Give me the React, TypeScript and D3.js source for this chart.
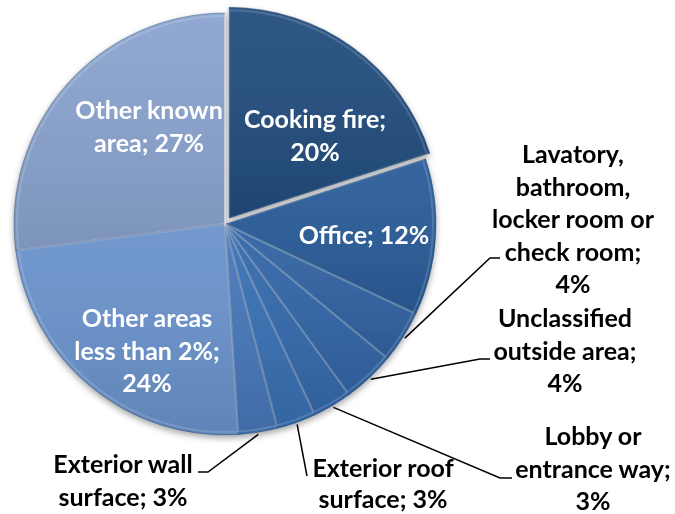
import React from "react";
import * as d3 from "d3";

const categories = [
  "Cooking fire",
  "Office",
  "Lavatory, bathroom, locker room or check room",
  "Unclassified outside area",
  "Lobby or entrance way",
  "Exterior roof surface",
  "Exterior wall surface",
  "Other areas less than 2%",
  "Other known area",
];
const values = [20, 12, 4, 4, 3, 3, 3, 24, 27];
const labelLines = [
  ["Cooking fire;", "20%"],
  ["Office; 12%"],
  ["Lavatory,", "bathroom,", "locker room or", "check room;", "4%"],
  ["Unclassified", "outside area;", "4%"],
  ["Lobby or", "entrance way;", "3%"],
  ["Exterior roof", "surface; 3%"],
  ["Exterior wall", "surface; 3%"],
  ["Other areas", "less than 2%;", "24%"],
  ["Other known", "area; 27%"],
];

// layout (not data)
const W = 675, H = 514;
const CX = 225, CY = 224, R = 211;
const FONT = "Lato, 'Open Sans', sans-serif";
const FS = 25;
const LH = 32.5;
const colors = ["#214d7e", "#2a5c99", "#3063a3", "#3366a8", "#356aad", "#396fb3", "#4677ba", "#6a93cc", "#8aa4cf"];
const explode = [7, 0, 0, 0, 0, 0, 0, 0, 0];
// label layout: [cx, first baseline, inside?, line height]
const labelPos: [number, number, boolean, number][] = [
  [315, 128, true, LH],
  [364, 244, true, LH],
  [573, 163, false, LH],
  [565, 327, false, LH],
  [593, 445, false, LH],
  [383, 477, false, 31],
  [123, 473, false, LH],
  [147, 327, true, LH],
  [149, 119, true, LH],
];
// leader elbow/end points for outside labels
const leaders: Record<number, [number, number][]> = {
  2: [[490, 258], [500, 258]],
  3: [[480, 359], [490, 359]],
  4: [[500, 478], [512, 478]],
  5: [[307, 476]],
  6: [[208, 472], [198, 472]],
};

export default function App() {
  const pie = d3.pie<number>().sort(null).value((d) => d)(values);
  const arc = d3.arc<d3.PieArcDatum<number>>().innerRadius(0).outerRadius(R);
  const innerArc = d3.arc<d3.PieArcDatum<number>>().innerRadius(0).outerRadius(R - 3);

  return (
    <svg width={W} height={H} style={{ position: "absolute", left: 0, top: 0, background: "#fff" }}>
      <defs>
        <filter id="shadow" x="-10%" y="-10%" width="120%" height="125%">
          <feDropShadow dx="0" dy="3" stdDeviation="3" floodColor="#000" floodOpacity="0.35" />
        </filter>
        <linearGradient id="shade" x1="0" y1="0" x2="0" y2="1">
          <stop offset="0" stopColor="#fff" stopOpacity="0.06" />
          <stop offset="1" stopColor="#000" stopOpacity="0.1" />
        </linearGradient>
      </defs>
      <g filter="url(#shadow)">
        {pie.map((p, i) => {
          const mid = (p.startAngle + p.endAngle) / 2;
          const dx = explode[i] * Math.sin(mid);
          const dy = -explode[i] * Math.cos(mid);
          return (
            <g key={i} transform={`translate(${CX + dx},${CY + dy})`}>
              <path d={arc(p) || ""} fill={colors[i]} stroke="#1f3f66" strokeOpacity={0.5} strokeWidth={0.8} />
            </g>
          );
        })}
      </g>
      {pie.map((p, i) => {
        const mid = (p.startAngle + p.endAngle) / 2;
        const dx = explode[i] * Math.sin(mid);
        const dy = -explode[i] * Math.cos(mid);
        return (
          <g key={"o" + i} transform={`translate(${CX + dx},${CY + dy})`}>
            <path d={arc(p) || ""} fill="url(#shade)" />
            <path d={innerArc(p) || ""} fill="none" stroke="#ffffff" strokeOpacity={0.15} strokeWidth={2} />
          </g>
        );
      })}
      <line x1={CX} y1={CY - R} x2={CX} y2={CY} stroke="#d8dde6" strokeWidth={1.5} />
      {Object.entries(leaders).map(([k, pts]) => {
        const i = +k;
        const p = pie[i];
        const mid = (p.startAngle + p.endAngle) / 2;
        const r0 = R + 2;
        const start: [number, number] = [CX + r0 * Math.sin(mid), CY - r0 * Math.cos(mid)];
        const line = d3.line()([start, ...pts]);
        return <path key={"l" + k} d={line || ""} fill="none" stroke="#000" strokeWidth={1.5} />;
      })}
      {labelLines.map((lines, i) => {
        const [x, y, inside, lh] = labelPos[i];
        return (
          <text
            key={"t" + i}
            x={x}
            y={y}
            textAnchor="middle"
            fontFamily={FONT}
            fontWeight={700}
            fontSize={FS}
            fill={inside ? "#ffffff" : "#000000"}
          >
            {lines.map((ln, j) => (
              <tspan key={j} x={x} y={y + j * lh}>
                {ln}
              </tspan>
            ))}
          </text>
        );
      })}
    </svg>
  );
}
